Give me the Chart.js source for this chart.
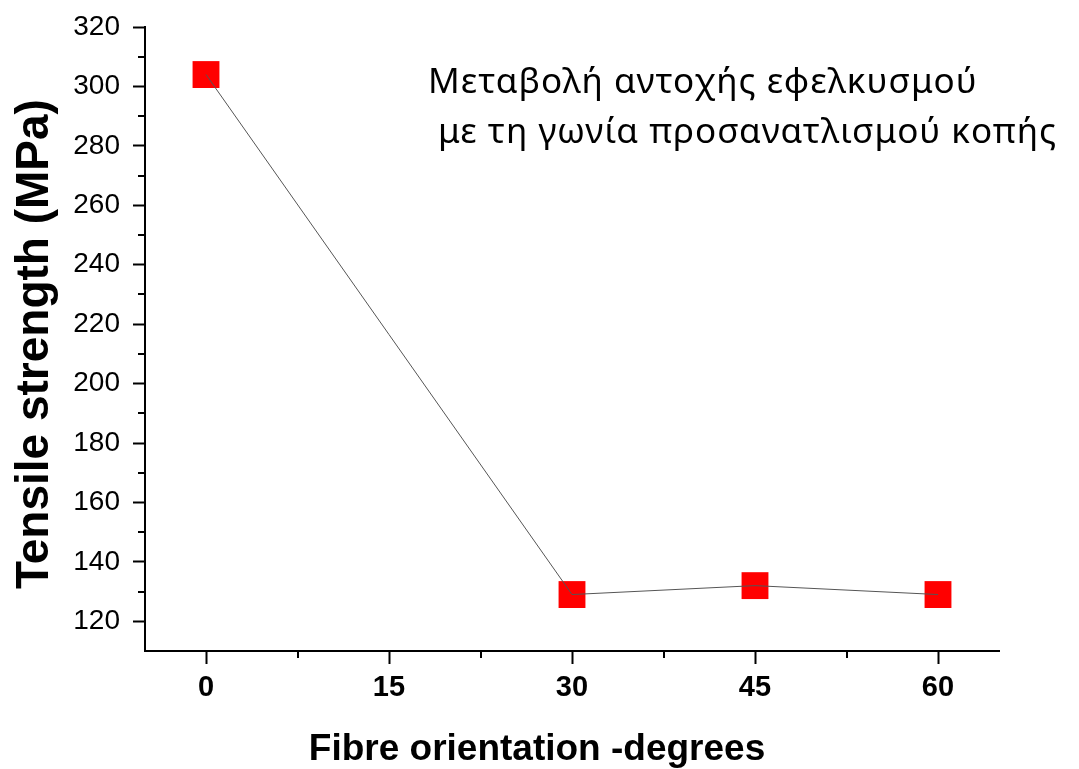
<!DOCTYPE html>
<html>
<head>
<meta charset="utf-8">
<script src="https://cdn.jsdelivr.net/npm/chart.js@4.4.1/dist/chart.umd.min.js"></script>
<style>
  html, body { margin: 0; padding: 0; background: #ffffff; }
  canvas { display: block; }
</style>
</head>
<body>
<canvas id="chart" width="1079" height="769"></canvas>
<script>
// Fibre orientation (degrees) and measured tensile strength (MPa)
const orientations = [0, 30, 45, 60];
const strengths = [304, 129, 132, 129];

// Axis ticks
const xMajorTicks = [0, 15, 30, 45, 60];
const xMinorTicks = [7.5, 22.5, 37.5, 52.5];
const yMajorTicks = [120, 140, 160, 180, 200, 220, 240, 260, 280, 300, 320];
const yMinorTicks = [130, 150, 170, 190, 210, 230, 250, 270, 290, 310];

// Texts
const xTitle = 'Fibre orientation -degrees';
const yTitle = 'Tensile strength (MPa)';
const noteLines = ['Μεταβολή αντοχής εφελκυσμού', ' με τη γωνία προσανατλισμού κοπής'];

const points = orientations.map((x, i) => ({ x: x, y: strengths[i] }));

// Minor tick marks plus the axis titles and the annotation
const decorations = {
  id: 'decorations',
  afterDraw(chart) {
    const ctx = chart.ctx;
    const xs = chart.scales.x, ys = chart.scales.y;
    const area = chart.chartArea;
    ctx.save();
    ctx.strokeStyle = '#000';
    ctx.lineWidth = 2;
    ctx.beginPath();
    xMinorTicks.forEach(v => {
      const px = Math.round(xs.getPixelForValue(v));
      ctx.moveTo(px, area.bottom);
      ctx.lineTo(px, area.bottom + 7);
    });
    yMinorTicks.forEach(v => {
      const py = Math.round(ys.getPixelForValue(v));
      ctx.moveTo(area.left, py);
      ctx.lineTo(area.left - 7, py);
    });
    ctx.stroke();

    ctx.fillStyle = '#000';
    // x-axis title
    ctx.font = 'bold 37px "Liberation Sans", Arial, sans-serif';
    ctx.textAlign = 'center';
    ctx.textBaseline = 'alphabetic';
    ctx.fillText(xTitle, 537, 760);

    // y-axis title, rotated
    ctx.save();
    ctx.translate(48, 344);
    ctx.rotate(-Math.PI / 2);
    ctx.font = 'bold 46px "Liberation Sans", Arial, sans-serif';
    ctx.fillText(yTitle, 0, 0);
    ctx.restore();

    // annotation
    ctx.font = '35px "Noto Sans", "Open Sans", sans-serif';
    ctx.letterSpacing = '1px';
    ctx.textAlign = 'left';
    ctx.fillText(noteLines[0], 428, 93);
    ctx.fillText(noteLines[1], 428, 143);
    ctx.restore();
  }
};

new Chart(document.getElementById('chart'), {
  type: 'scatter',
  data: {
    datasets: [
      {
        // connecting line, drawn above the markers
        type: 'line',
        data: points,
        borderColor: '#555555',
        borderWidth: 1,
        pointRadius: 0,
        fill: false,
        tension: 0,
        order: 0
      },
      {
        data: points,
        pointStyle: 'rect',
        pointRadius: 19,
        pointHoverRadius: 19,
        backgroundColor: '#ff0000',
        borderColor: '#ff0000',
        pointBorderWidth: 0,
        order: 1
      }
    ]
  },
  options: {
    responsive: false,
    animation: false,
    devicePixelRatio: 1,
    layout: { padding: { top: 27, right: 80, left: 0, bottom: 0 } },
    plugins: {
      legend: { display: false },
      tooltip: { enabled: false }
    },
    scales: {
      x: {
        type: 'linear',
        min: -5,
        max: 65,
        afterBuildTicks: s => { s.ticks = xMajorTicks.map(v => ({ value: v })); },
        afterFit: s => { s.height = 118; s.paddingLeft = 0; s.paddingRight = 0; },
        border: { display: true, color: '#000', width: 2 },
        grid: { display: true, drawOnChartArea: false, drawTicks: true, tickLength: 13, tickColor: '#000', tickWidth: 2 },
        ticks: {
          color: '#000',
          padding: 7,
          maxRotation: 0,
          autoSkip: false,
          font: { family: '"Liberation Sans", Arial, sans-serif', size: 29, weight: 'bold' }
        }
      },
      y: {
        type: 'linear',
        min: 110,
        max: 320,
        afterBuildTicks: s => { s.ticks = yMajorTicks.map(v => ({ value: v })); },
        afterFit: s => { s.width = 145; s.paddingTop = 0; s.paddingBottom = 0; },
        border: { display: true, color: '#000', width: 2 },
        grid: { display: true, drawOnChartArea: false, drawTicks: true, tickLength: 12, tickColor: '#000', tickWidth: 2 },
        ticks: {
          color: '#000',
          padding: 13,
          autoSkip: false,
          font: { family: '"Liberation Sans", Arial, sans-serif', size: 28 }
        }
      }
    }
  },
  plugins: [decorations]
});
</script>
</body>
</html>
